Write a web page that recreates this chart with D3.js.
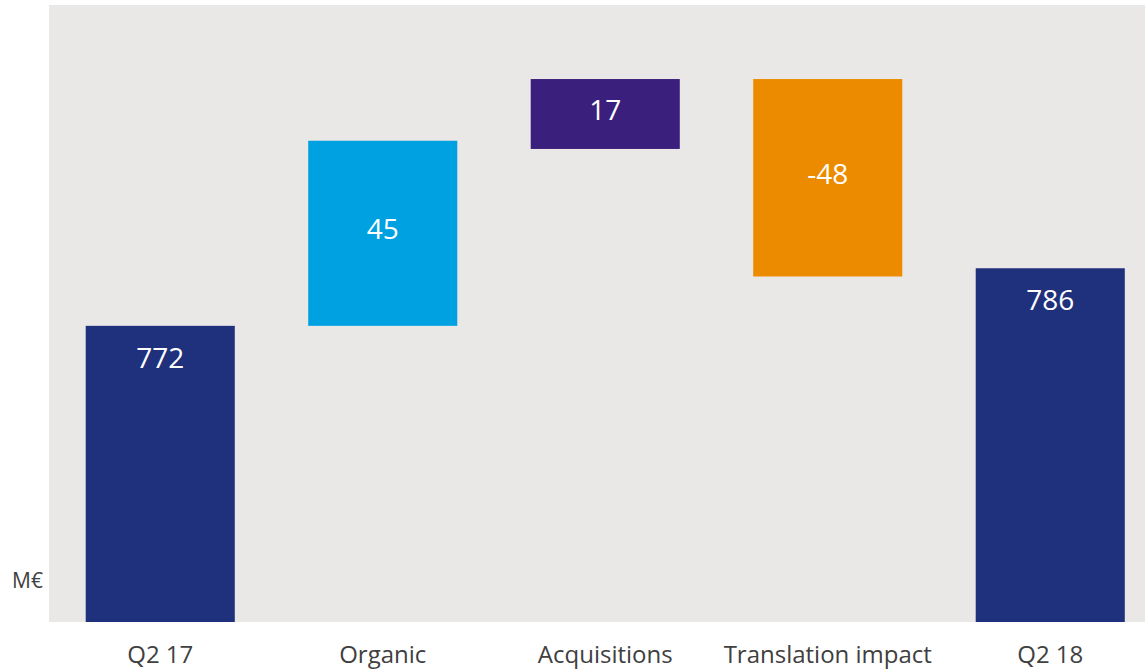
<!DOCTYPE html>
<meta charset="utf-8">
<head>
    <script src="https://d3js.org/d3.v7.min.js"></script>
    <style>
    body { margin: 0; background: #fff; }
    text { font-family: "Open Sans", "Noto Sans", sans-serif; }
    </style>
</head>
<body>
    <script>
    // bridge data (M€)
    var categories = ["Q2 17", "Organic", "Acquisitions", "Translation impact", "Q2 18"];
    var values     = [772, 45, 17, -48, 786];
    var isTotal    = [true, false, false, false, true];
    // where each change bar starts, as it sits in the picture
    var barStart   = [null, 772, 815, 832, null];
    var labels     = ["772", "45", "17", "-48", "786"];
    var colors     = ["#1f317c", "#00a1e0", "#3b1f7c", "#ed8b00", "#1f317c"];
    var axisFloor  = 700, axisTop = 850;
    var unitLabel  = "M€";

    var width = 1145, height = 671;
    var plot = { left: 49, top: 5, right: 1161.5, bottom: 622 };

    var svg = d3.select("body").append("svg")
        .attr("width", width)
        .attr("height", height);

    var x = d3.scaleBand()
        .domain(categories)
        .range([plot.left, plot.right])
        .paddingInner(0.33)
        .paddingOuter(0.165);
    var y = d3.scaleLinear()
        .domain([axisFloor, axisTop])
        .range([plot.bottom, plot.top]);

    // grey plot background
    svg.append("rect")
        .attr("x", plot.left)
        .attr("y", plot.top)
        .attr("width", plot.right - plot.left)
        .attr("height", plot.bottom - plot.top)
        .attr("fill", "#e9e8e6");

    var bars = categories.map(function(c, i) {
        var lo, hi;
        if (isTotal[i]) { lo = axisFloor; hi = values[i]; }
        else { lo = barStart[i]; hi = barStart[i] + values[i]; }
        return { cat: c, lo: Math.min(lo, hi), hi: Math.max(lo, hi), i: i };
    });

    svg.selectAll(".bar")
        .data(bars)
        .enter().append("rect")
        .attr("class", "bar")
        .attr("x", function(d) { return x(d.cat); })
        .attr("width", x.bandwidth())
        .attr("y", function(d) { return y(d.hi); })
        .attr("height", function(d) { return y(d.lo) - y(d.hi); })
        .attr("fill", function(d) { return colors[d.i]; });

    // value labels
    svg.selectAll(".val")
        .data(bars)
        .enter().append("text")
        .attr("class", "val")
        .attr("x", function(d) { return x(d.cat) + x.bandwidth() / 2; })
        .attr("y", function(d) {
            if (isTotal[d.i]) return y(d.hi) + 32;
            return (y(d.hi) + y(d.lo)) / 2 - 4;
        })
        .attr("dy", "0.35em")
        .attr("text-anchor", "middle")
        .attr("fill", "#fff")
        .style("font-size", "28px")
        .text(function(d) { return labels[d.i]; });

    // category axis, no line or ticks
    var xAxis = svg.append("g")
        .attr("transform", "translate(0," + plot.bottom + ")")
        .call(d3.axisBottom(x).tickSize(0).tickPadding(0));
    xAxis.select(".domain").remove();
    xAxis.selectAll("text")
        .attr("y", 41)
        .attr("dy", 0)
        .attr("fill", "#404040")
        .style("font-size", "24px")
        .style("font-family", "'Open Sans', 'Noto Sans', sans-serif");

    // unit
    svg.append("text")
        .attr("x", 12)
        .attr("y", 588)
        .attr("fill", "#404040")
        .style("font-size", "21px")
        .text(unitLabel);
    </script>
</body>
</html>
